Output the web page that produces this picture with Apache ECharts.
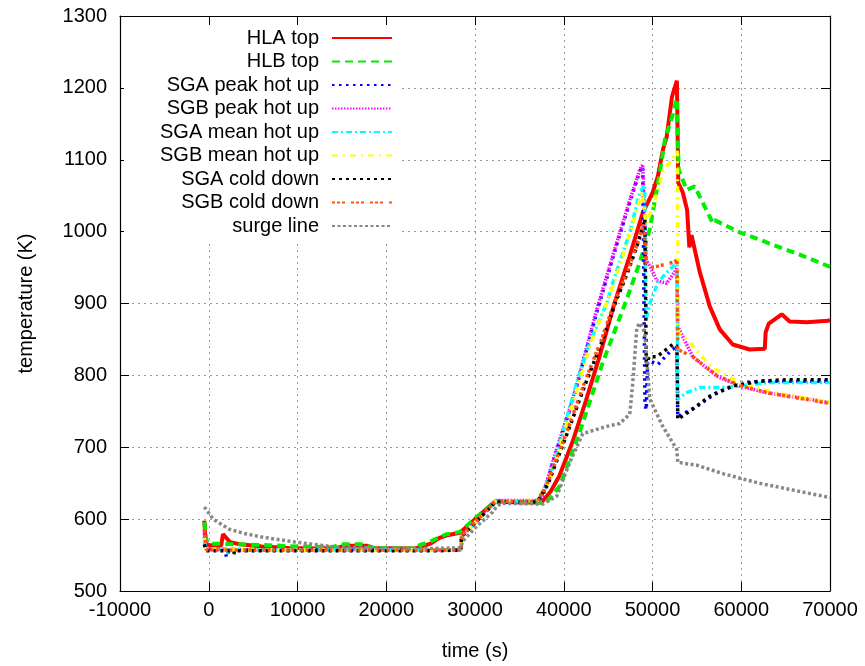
<!DOCTYPE html>
<html>
<head>
<meta charset="utf-8">
<script src="https://cdn.jsdelivr.net/npm/echarts@6/dist/echarts.min.js"></script>
<style>html,body{margin:0;padding:0;background:#fff}#c{width:865px;height:666px}</style>
</head>
<body>
<div id="c"></div>
<script>
var seriesNames = ['HLA top','HLB top','SGA peak hot up','SGB peak hot up','SGA mean hot up','SGB mean hot up','SGA cold down','SGB cold down','surge line'];
var xTicks = {min: -10000, max: 70000, step: 10000};
var yTicks = {min: 500, max: 1300, step: 100};

var hlaTop = [[-500,598],[-350,566],[0,564],[1400,563],[1600,579],[1900,575],[2400,568],[3500,565],[6000,562],[9000,560],[12000,559],[14500,560],[15300,563],[17800,563],[18600,560],[23200,559],[24000,562],[25000,566],[26000,574],[27000,578],[28300,581],[30000,600],[32300,625],[35000,623],[37500,623],[38500,638],[39500,660],[41000,708],[42500,765],[44000,825],[45700,900],[47400,965],[48900,1026],[50000,1054],[50600,1077],[51200,1115],[51600,1132],[52200,1188],[52750,1210],[52900,1068],[53400,1055],[53900,1030],[54150,978],[54400,995],[55300,945],[56450,896],[57580,864],[59040,843],[60960,836],[62650,837],[62750,860],[63100,872],[64560,885],[65460,875],[67380,874],[69750,876],[70000,877]];
var hlbTop = [[-500,596],[-250,570],[0,566],[3000,565],[6000,564],[10000,562],[14000,561],[14800,565],[17400,565],[18300,560],[23000,559],[23800,564],[25000,569],[26000,575],[26800,579],[28300,582],[30000,601],[32300,625],[35000,624],[38000,623],[39550,646],[41800,721],[44400,818],[47100,906],[48560,957],[49690,1003],[50820,1082],[51400,1128],[52170,1158],[52730,1185],[52950,1086],[53860,1058],[54760,1063],[56790,1012],[57000,1016],[59830,999],[62870,985],[66590,968],[70000,951]];
var sgaPeakHotUp = [[-500,575],[-300,560],[0,558],[1800,558],[2000,547],[2300,558],[5000,557],[10000,557],[15000,557],[20000,557],[25000,557],[28400,557],[28500,576],[32300,624],[37000,625],[37640,632],[39000,688],[41020,765],[43720,888],[45970,982],[47440,1041],[48560,1084],[48900,1090],[49150,760],[49300,752],[49450,818],[49700,820],[50600,815],[52200,836],[52750,840],[52850,742],[55000,757],[57240,776],[59830,790],[62870,792],[70000,792]];
var sgbPeakHotUp = [[-500,580],[-300,560],[0,558],[5000,557],[10000,557],[15000,558],[20000,557],[25000,557],[28400,557],[28500,577],[32300,626],[37000,626],[37640,633],[39000,690],[41020,767],[43720,892],[45970,985],[47440,1044],[48560,1086],[48900,1093],[49300,960],[49700,952],[50500,932],[51600,928],[52500,944],[52750,950],[52850,868],[54530,826],[57240,799],[59830,785],[62870,776],[66590,769],[70000,762]];
var sgaMeanHotUp = [[-500,570],[-300,558],[0,558],[2100,558],[2200,553],[2400,558],[6000,557],[12000,557],[18000,557],[24000,557],[28400,557],[28500,576],[32300,624],[37000,625],[38500,660],[39890,721],[41470,790],[43000,848],[44850,900],[45520,929],[47440,999],[48560,1054],[49100,1065],[49300,880],[49700,900],[50600,929],[51600,943],[52500,954],[52750,955],[52850,767],[53860,776],[55330,783],[58370,783],[62870,790],[70000,790]];
var sgbMeanHotUp = [[-500,575],[-300,559],[0,558],[6000,557],[12000,557],[18000,557],[24000,557],[28400,557],[28500,576],[32300,625],[37000,625],[38600,660],[40000,718],[41600,785],[43200,850],[45000,905],[46650,965],[48230,1030],[48800,1055],[49300,1010],[49700,1025],[50300,1045],[51200,1085],[52200,1100],[52800,1112],[52900,860],[54200,846],[56450,813],[59830,790],[63550,776],[70000,763]];
var sgaColdDown = [[-500,565],[-300,556],[0,556],[2800,556],[2900,552],[3100,556],[8000,556],[14000,556],[20000,556],[26000,556],[28400,557],[28500,576],[32300,624],[37000,624],[38200,648],[40680,729],[42500,790],[44280,846],[45970,906],[47100,940],[48230,979],[49130,1017],[49300,812],[49600,826],[50500,826],[52280,843],[52750,841],[52850,739],[54530,753],[56450,771],[59040,785],[62090,792],[65130,794],[70000,794]];
var sgbColdDown = [[-500,585],[-300,558],[0,557],[5000,557],[10000,557],[15000,557],[20000,557],[25000,557],[28400,557],[28500,577],[32300,625],[37000,624],[38100,648],[40600,730],[42400,792],[44200,848],[45900,908],[47100,942],[48230,981],[49000,1010],[49300,955],[49700,950],[50600,952],[51600,955],[52500,958],[52750,961],[52850,836],[54530,826],[57240,800],[59830,786],[62870,776],[66590,768],[70000,761]];
var surgeLine = [[-500,617],[500,600],[2300,586],[4000,580],[6000,575],[9800,568],[14400,561],[18000,560],[24000,559],[28400,560],[28600,569],[30200,590],[32000,610],[32450,618],[33000,622],[37640,621],[39210,632],[40680,679],[42140,719],[44850,729],[46310,733],[47440,746],[47780,790],[48230,866],[48560,873],[49130,860],[49690,767],[51160,729],[52730,697],[52850,679],[55000,675],[58000,663],[62000,650],[66000,640],[70000,630]];

var FONT = 'Liberation Sans, Arial, sans-serif';
var styles = [
  {color:'#ff0000', width:4, type:'solid'},
  {color:'#00ee00', width:4, type:[8,5]},
  {color:'#0000ff', width:3.5, type:[2.5,4.5]},
  {color:'#ff00ff', width:3.5, type:[1.5,1.5]},
  {color:'#00ffff', width:3.5, type:[6,3,2,3]},
  {color:'#ffff00', width:3.5, type:[6,5,2,5]},
  {color:'#000000', width:3.5, type:[3,4]},
  {color:'#ff5010', width:3.5, type:[3,2,3,2,3,6]},
  {color:'#888888', width:3.5, type:[3,2.5]}
];
var dataList = [hlaTop,hlbTop,sgaPeakHotUp,sgbPeakHotUp,sgaMeanHotUp,sgbMeanHotUp,sgaColdDown,sgbColdDown,surgeLine];

var series = seriesNames.map(function(n,i){
  return {
    name:n, type:'line', data:dataList[i], symbol:'none', showSymbol:false,
    lineStyle:{color:styles[i].color, width:styles[i].width, type:styles[i].type, cap:'butt'},
    itemStyle:{color:styles[i].color},
    animation:false, clip:true, z:2+i
  };
});

function plain(v){ return String(v); }

function axisBase(extra){
  var a = {
    type:'value', axisLine:{show:true, onZero:false, lineStyle:{color:'#000', width:1.2}},
    axisTick:{show:true, inside:true, length:9, lineStyle:{color:'#000', width:1}},
    axisLabel:{color:'#000', fontSize:20, fontFamily:FONT, formatter:plain},
    splitLine:{show:false}
  };
  for (var k in extra) a[k]=extra[k];
  return a;
}

var chart = echarts.init(document.getElementById('c'), null, {renderer:'canvas'});
chart.setOption({
  animation:false,
  backgroundColor:'#fff',
  grid:{left:120, right:35, top:16, bottom:74, containLabel:false},
  legend:{
    orient:'vertical', align:'right', right:465, top:25,
    padding:[3,7,5,36], backgroundColor:'#fff',
    itemWidth:60, itemHeight:14, itemGap:3.5,
    itemStyle:{color:'rgba(0,0,0,0)', borderWidth:0, opacity:0},
    textStyle:{fontSize:20, fontFamily:FONT, color:'#000', lineHeight:20, padding:[0,8,0,0]},
    data:seriesNames
  },
  xAxis:[
    axisBase({min:xTicks.min, max:xTicks.max, interval:xTicks.step, position:'bottom',
      axisLabel:{color:'#000', fontSize:20, fontFamily:FONT, margin:9, formatter:plain},
      splitLine:{show:true, lineStyle:{color:'#999', width:1, type:[2,4]}},
      name:'time (s)', nameLocation:'middle', nameGap:50,
      nameTextStyle:{fontSize:20, fontFamily:FONT, color:'#000'}}),
    axisBase({min:xTicks.min, max:xTicks.max, interval:xTicks.step, position:'top',
      axisLabel:{show:false}})
  ],
  yAxis:[
    axisBase({min:yTicks.min, max:yTicks.max, interval:yTicks.step, position:'left',
      axisLabel:{color:'#000', fontSize:20, fontFamily:FONT, margin:13, formatter:plain},
      splitLine:{show:true, lineStyle:{color:'#999', width:1, type:[2,4]}},
      name:'temperature (K)', nameLocation:'middle', nameGap:84,
      nameTextStyle:{fontSize:20, fontFamily:FONT, color:'#000'}}),
    axisBase({min:yTicks.min, max:yTicks.max, interval:yTicks.step, position:'right',
      axisLabel:{show:false}})
  ],
  series:series
});
</script>
</body>
</html>
